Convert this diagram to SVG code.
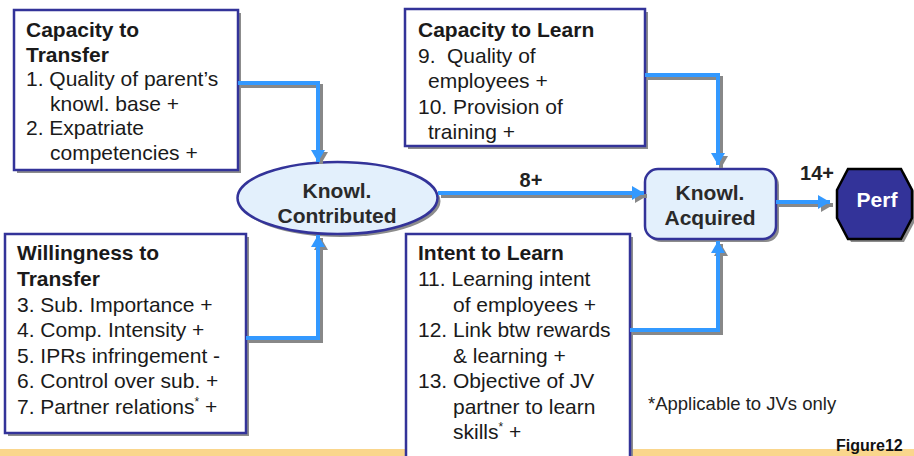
<svg xmlns="http://www.w3.org/2000/svg" width="914" height="456" viewBox="0 0 914 456">
<style>
.box{fill:#FFFFFF;stroke:#333399;stroke-width:2.5}
.sh{fill:#8C8C8C;stroke:none}
.t{font-family:"Liberation Sans",Arial,sans-serif;font-size:21px;fill:#1A1A1A}
.b{font-weight:bold}
.nt{font-family:"Liberation Sans",Arial,sans-serif;font-size:21px;font-weight:bold;fill:#2A2A2A;text-anchor:middle}
.lbl{font-family:"Liberation Sans",Arial,sans-serif;font-size:20px;font-weight:bold;fill:#222222;text-anchor:middle}
.cs{fill:none;stroke:#888888;stroke-width:4}
.cb{fill:none;stroke:#3399FF;stroke-width:4}
</style>
<defs>
<marker id="ab" markerUnits="userSpaceOnUse" markerWidth="14" markerHeight="16" refX="12" refY="7" orient="auto" viewBox="0 0 14 14">
<path d="M0,0 L12,7 L0,14 Z" fill="#3399FF"/>
</marker>
<marker id="ag" markerUnits="userSpaceOnUse" markerWidth="14" markerHeight="16" refX="12" refY="7" orient="auto" viewBox="0 0 14 14">
<path d="M0,0 L12,7 L0,14 Z" fill="#888888"/>
</marker>
</defs>
<rect width="914" height="456" fill="#FFFFFF"/>
<rect x="0" y="449" width="914" height="7" fill="#FAD68C"/>

<g id="capacity-to-transfer">
<rect class="sh" x="17" y="13" width="224" height="160"/>
<rect class="box" x="14" y="10" width="224" height="160"/>
<text class="t"><tspan class="b" x="26" y="37">Capacity to</tspan><tspan class="b" x="26" y="61.5">Transfer</tspan><tspan x="26" y="86">1. Quality of parent’s</tspan><tspan x="50" y="110.5">knowl. base +</tspan><tspan x="26" y="135">2. Expatriate</tspan><tspan x="50" y="159.5">competencies +</tspan></text>
</g>

<g id="willingness-to-transfer">
<rect class="sh" x="8" y="237" width="241" height="199"/>
<rect class="box" x="5" y="234" width="241" height="199"/>
<text class="t"><tspan class="b" x="17" y="260">Willingness to</tspan><tspan class="b" x="17" y="286">Transfer</tspan><tspan x="17" y="312">3. Sub. Importance +</tspan><tspan x="17" y="337">4. Comp. Intensity +</tspan><tspan x="17" y="363">5. IPRs infringement -</tspan><tspan x="17" y="388">6. Control over sub. +</tspan><tspan x="17" y="414">7. Partner relations</tspan><tspan font-size="12" dy="-8">*</tspan><tspan dy="8"> +</tspan></text>
</g>

<g id="capacity-to-learn">
<rect class="sh" x="408" y="12" width="240" height="137"/>
<rect class="box" x="405" y="9" width="240" height="137"/>
<text class="t"><tspan class="b" x="418" y="37">Capacity to Learn</tspan><tspan x="418" y="62.5">9.</tspan><tspan x="447" y="62.5">Quality of</tspan><tspan x="428" y="88">employees +</tspan><tspan x="418" y="113.5">10. Provision of</tspan><tspan x="428" y="139">training +</tspan></text>
</g>

<g id="intent-to-learn">
<rect class="sh" x="409" y="237" width="224" height="240"/>
<rect class="box" x="406" y="234" width="224" height="240"/>
<text class="t"><tspan class="b" x="418" y="260">Intent to Learn</tspan><tspan x="418" y="286">11. Learning intent</tspan><tspan x="453" y="312">of employees +</tspan><tspan x="418" y="337">12. Link btw rewards</tspan><tspan x="453" y="363">&amp; learning +</tspan><tspan x="418" y="388">13. Objective of JV</tspan><tspan x="453" y="414">partner to learn</tspan><tspan x="453" y="439">skills</tspan><tspan font-size="12" dy="-8">*</tspan><tspan dy="8"> +</tspan></text>
</g>

<g id="knowl-contributed">
<ellipse cx="340.5" cy="201" rx="100" ry="36" fill="#8C8C8C"/>
<ellipse cx="337.5" cy="198" rx="100" ry="36" fill="#E3F0FC" stroke="#333399" stroke-width="2.5"/>
<text class="nt"><tspan x="337" y="198">Knowl.</tspan><tspan x="337" y="223">Contributed</tspan></text>
</g>

<g id="knowl-acquired">
<rect x="648" y="172" width="131" height="70" rx="13" fill="#8C8C8C"/>
<rect x="645" y="169" width="131" height="70" rx="13" fill="#E3F0FC" stroke="#333399" stroke-width="2.5"/>
<text class="nt"><tspan x="710" y="200">Knowl.</tspan><tspan x="710" y="225">Acquired</tspan></text>
</g>

<g id="perf">
<polygon points="851,172 904,172 915,193 915,221 904,242 851,242 840,221 840,193" fill="#8C8C8C"/>
<polygon points="848,169 901,169 912,190 912,218 901,239 848,239 837,218 837,190" fill="#333399" stroke="#000000" stroke-width="2.5"/>
<text class="nt" style="fill:#FFFFFF"><tspan x="877" y="207">Perf</tspan></text>
</g>

<g id="connectors">
<path class="cs" d="M241,86 H321 V164" marker-end="url(#ag)"/>
<path class="cb" d="M238,83 H318 V162" marker-end="url(#ab)"/>
<path class="cs" d="M249,341 H321 V238" marker-end="url(#ag)"/>
<path class="cb" d="M246,338 H318 V235" marker-end="url(#ab)"/>
<path class="cs" d="M441,196 H647" marker-end="url(#ag)"/>
<path class="cb" d="M438,193 H644" marker-end="url(#ab)"/>
<path class="cs" d="M648,78 H721 V168" marker-end="url(#ag)"/>
<path class="cb" d="M645,75 H718 V165" marker-end="url(#ab)"/>
<path class="cs" d="M633,333 H721 V244" marker-end="url(#ag)"/>
<path class="cb" d="M630,330 H718 V241" marker-end="url(#ab)"/>
<path class="cs" d="M779,205 H833" marker-end="url(#ag)"/>
<path class="cb" d="M776,202 H830" marker-end="url(#ab)"/>
<text class="lbl" x="531" y="187">8+</text>
<text class="lbl" x="817" y="180">14+</text>
</g>

<text x="648" y="410" font-family="'Liberation Sans',Arial,sans-serif" font-size="18.5" fill="#222222">*Applicable to JVs only</text>
<text x="836" y="451" font-family="'Liberation Sans',Arial,sans-serif" font-size="16" font-weight="bold" fill="#111111">Figure12</text>
</svg>
